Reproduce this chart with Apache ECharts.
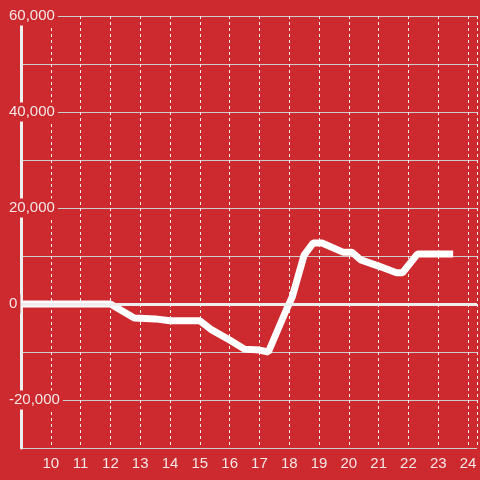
<!DOCTYPE html>
<html>
<head>
<meta charset="utf-8">
<script src="https://cdn.jsdelivr.net/npm/echarts@6/dist/echarts.min.js"></script>
<style>
  html, body { margin: 0; padding: 0; background: #cc2a2f; }
  #chart { width: 480px; height: 480px; }
</style>
</head>
<body>
<div id="chart"></div>
<script>
// hour of day -> value
const hours = [9, 12, 12.8, 13.5, 14, 15, 15.4, 16, 16.5, 17, 17.3, 17.9, 18.1, 18.5, 18.8, 19.1, 19.8, 20.1, 20.4, 21, 21.6, 21.8, 22.3, 23.5];
const values = [0, 0, -2900, -3100, -3500, -3500, -5400, -7500, -9400, -9600, -10000, -1250, 1450, 10200, 12700, 12700, 10800, 10800, 9200, 7900, 6500, 6500, 10400, 10400];
const xTicks = [10, 11, 12, 13, 14, 15, 16, 17, 18, 19, 20, 21, 22, 23, 24];
const yTicks = [-20000, 0, 20000, 40000, 60000];

const bg = "#cc2a2f";
const light = "#f2e6e6";
const font = "'Liberation Sans', Arial, sans-serif";

const chart = echarts.init(document.getElementById("chart"));
chart.setOption({
  backgroundColor: bg,
  animation: false,
  textStyle: { fontFamily: font },
  grid: { left: 21, right: 0, top: 16, bottom: 32 },
  xAxis: {
    type: "value",
    min: 9,
    max: 9 + 459 / 30,
    interval: 1,
    axisLine: { show: false },
    axisTick: { show: false },
    axisLabel: {
      color: light,
      fontSize: 15,
      fontFamily: font,
      margin: 8,
      formatter: v => (xTicks.indexOf(v) >= 0 ? String(v) : "")
    },
    splitLine: { lineStyle: { color: "#eeeeee", type: [3, 3], width: 1 } }
  },
  yAxis: {
    type: "value",
    min: -30000,
    max: 60000,
    interval: 10000,
    axisLine: { show: true, lineStyle: { color: "#eeeeee", width: 3 } },
    axisTick: { show: false },
    axisLabel: {
      align: "left",
      margin: 13,
      formatter: v => (yTicks.indexOf(v) >= 0 ? "{a|" + v.toLocaleString("en-US") + "}" : ""),
      rich: {
        a: { color: light, fontSize: 15, fontFamily: font, backgroundColor: bg, padding: [2, 3, 2, 1] }
      }
    },
    splitLine: { lineStyle: { color: "#cccccc", width: 1 } }
  },
  series: [
    {
      type: "line",
      data: hours.map((h, i) => [h, values[i]]),
      showSymbol: false,
      smooth: false,
      lineStyle: { color: "#ffffff", width: 7 },
      markLine: {
        silent: true,
        symbol: "none",
        label: { show: false },
        lineStyle: { color: "#eeeeee", width: 3, type: "solid" },
        data: [{ yAxis: 0 }]
      },
      z: 3
    }
  ]
});
</script>
</body>
</html>
